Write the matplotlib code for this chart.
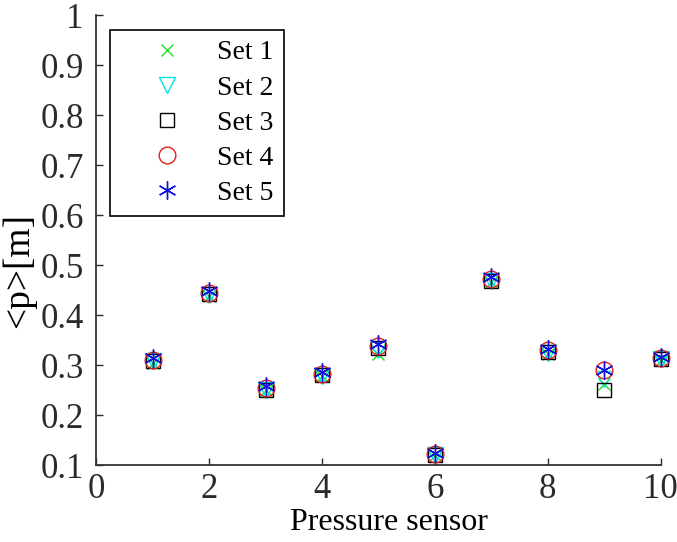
import matplotlib.pyplot as plt

plt.rcParams['font.family'] = ['Liberation Serif', 'DejaVu Serif']

sensors = [1, 2, 3, 4, 5, 6, 7, 8, 9, 10]

set1 = [0.305, 0.438, 0.250, 0.278, 0.322, 0.120, 0.466, 0.322, 0.262, 0.310]
set2 = [0.308, 0.440, 0.250, 0.278, 0.330, 0.120, 0.468, 0.325, 0.272, 0.312]
set3 = [0.308, 0.442, 0.251, 0.280, 0.335, 0.120, 0.468, 0.327, 0.250, 0.312]
set4 = [0.310, 0.445, 0.254, 0.283, 0.338, 0.122, 0.472, 0.330, 0.290, 0.314]
set5 = [0.315, 0.448, 0.258, 0.287, 0.343, 0.124, 0.476, 0.333, 0.290, 0.317]

labels = ['Set 1', 'Set 2', 'Set 3', 'Set 4', 'Set 5']

fig = plt.figure(figsize=(6.77, 5.42), dpi=100)
ax = fig.add_axes([0.142, 0.142, 0.834, 0.830])

# asterisk like matlab '*'
ax.plot(sensors, set1, 'x', color='#22dd22', ms=9, mew=1, label=labels[0], clip_on=False)
ax.plot(sensors, set2, 'v', color='#00e5e5', mfc='none', ms=12, mew=1, label=labels[1], clip_on=False)
ax.plot(sensors, set3, 's', color='black', mfc='none', ms=10, mew=1, label=labels[2], clip_on=False)
ax.plot(sensors, set4, 'o', color='#e02020', mfc='none', ms=12, mew=1, label=labels[3], clip_on=False)
ax.plot(sensors, set5, marker=(6, 2, 0), ls='none', color='#1010e0', ms=13, mew=1,
        label=labels[4], clip_on=False)

ax.set_xlim(0, 10)
ax.set_ylim(0.1, 1)
ax.set_xticks([0, 2, 4, 6, 8, 10])
ax.set_yticks([0.1, 0.2, 0.3, 0.4, 0.5, 0.6, 0.7, 0.8, 0.9, 1])
ax.set_yticklabels(['0.1', '0.2', '0.3', '0.4', '0.5', '0.6', '0.7', '0.8', '0.9', '1'])
ax.tick_params(direction='in', length=5, width=1, labelsize=25, colors='#2a2a2a')
ax.tick_params(axis='y', pad=9)
ax.tick_params(axis='x', pad=6)

ax.spines['top'].set_visible(False)
ax.spines['right'].set_visible(False)
for s in ['left', 'bottom']:
    ax.spines[s].set_linewidth(1.3)
    ax.spines[s].set_color('#333333')

ax.set_xlabel('Pressure sensor', fontsize=23)
ax.set_ylabel('<p>[m]', fontsize=27)
ax.xaxis.set_label_coords(0.519, -0.095)
ax.yaxis.set_label_coords(-0.106, 0.433)

leg = ax.legend(loc='upper left', bbox_to_anchor=(0.025, 0.967), borderaxespad=0,
                fontsize=20, fancybox=False, edgecolor='black', framealpha=1,
                labelspacing=0.35, handletextpad=0.1, borderpad=0.36, handlelength=3.4)
leg.get_frame().set_linewidth(1.2)

fig.savefig('out.png', dpi=100)
